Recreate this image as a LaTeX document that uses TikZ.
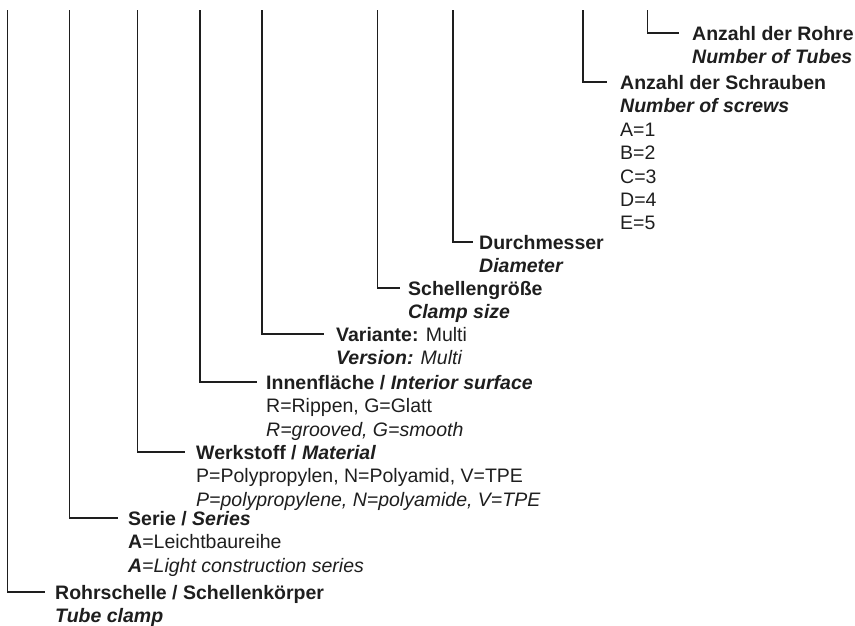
\documentclass[tikz,border=0pt]{standalone}
\usepackage{fontspec}
\setmainfont{Liberation Sans}
\usepackage{xcolor}
\usepackage{tikz}
\usetikzlibrary{positioning}

\definecolor{ink}{HTML}{1E1E1E}
\newcommand\eng[1]{\textbf{\textit{#1}}}
\newcommand\lnstrut{\rule{0pt}{18.7pt}}

\begin{document}
\begin{tikzpicture}[
        x=1pt, y=-1pt,
        head/.style={anchor=west, inner sep=0pt, text height=18.7pt,
                     text depth=4.7pt, font=\fontsize{19.5}{23.4}\selectfont\bfseries,
                     text=ink},
        info/.style={anchor=north west, inner sep=0pt, align=left,
                     font=\fontsize{19.5}{23.4}\selectfont, text=ink},
        link/.style={draw=ink, line width=1.3pt, shorten >=10pt}
    ]
        \useasboundingbox (0,0) rectangle (855,625);

        % Tops of the leader lines
        \coordinate (clamptop) at (7.5,10);
        \coordinate (seriestop) at (69.5,10);
        \coordinate (materialtop) at (137.5,10);
        \coordinate (surfacetop) at (200,10);
        \coordinate (varianttop) at (262,10);
        \coordinate (sizetop) at (377.5,10);
        \coordinate (diamtop) at (453,10);
        \coordinate (screwstop) at (583,10);
        \coordinate (tubestop) at (647.5,10);

        % Headings
        \node[head] (clamp) at (55,592) {Rohrschelle / Schellenkörper};
        \node[head] (series) at (128,518) {Serie / \textit{Series}};
        \node[head] (material) at (196,452) {Werkstoff / \textit{Material}};
        \node[head] (surface) at (266,382) {Innenfläche / \textit{Interior surface}};
        \node[head] (variant) at (336,334) {Variante: \textmd{Multi}};
        \node[head] (size) at (408,288) {Schellengröße};
        \node[head] (diam) at (479,242) {Durchmesser};
        \node[head] (screws) at (620,82) {Anzahl der Schrauben};
        \node[head] (tubes) at (692,33) {Anzahl der Rohre};

        % Details
        \node[info] (clampinfo) at (clamp.south west) {\lnstrut\eng{Tube clamp}};
        \node[info] (seriesinfo) at (series.south west)
            {\lnstrut\textbf{A}=Leichtbaureihe\\ \eng{A}=\textit{Light construction series}};
        \node[info] (materialinfo) at (material.south west)
            {\lnstrut P=Polypropylen, N=Polyamid, V=TPE\\ \textit{P=polypropylene, N=polyamide, V=TPE}};
        \node[info] (surfaceinfo) at (surface.south west)
            {\lnstrut R=Rippen, G=Glatt\\ \textit{R=grooved, G=smooth}};
        \node[info] (variantinfo) at (variant.south west) {\lnstrut\eng{Version:} \textit{Multi}};
        \node[info] (sizeinfo) at (size.south west) {\lnstrut\eng{Clamp size}};
        \node[info] (diaminfo) at (diam.south west) {\lnstrut\eng{Diameter}};
        \node[info] (screwsinfo) at (screws.south west)
            {\lnstrut\eng{Number of screws}\\A=1\\B=2\\C=3\\D=4\\E=5};
        \node[info] (tubesinfo) at (tubes.south west) {\lnstrut\eng{Number of Tubes}};

        % Leader lines
        \draw[link] (clamptop) |- (clamp);
        \draw[link] (seriestop) |- (series);
        \draw[link, shorten >=11pt] (materialtop) |- (material);
        \draw[link, shorten >=9pt] (surfacetop) |- (surface);
        \draw[link, shorten >=12pt] (varianttop) |- (variant);
        \draw[link, shorten >=8pt] (sizetop) |- (size);
        \draw[link, shorten >=6pt] (diamtop) |- (diam);
        \draw[link, shorten >=13pt] (screwstop) |- (screws);
        \draw[link, shorten >=13pt] (tubestop) |- (tubes);
    \end{tikzpicture}
\end{document}
